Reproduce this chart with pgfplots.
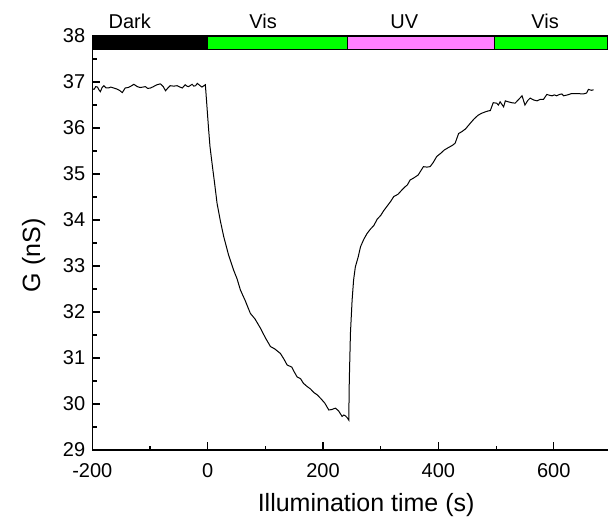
\documentclass[border=0pt]{standalone}
\usepackage{fontspec}
\setmainfont{Liberation Sans}
\usepackage{pgfplots}
\pgfplotsset{compat=1.18}
\definecolor{visgreen}{RGB}{0,255,0}
\definecolor{uvpink}{RGB}{255,128,255}
\begin{document}
\begin{tikzpicture}
\begin{axis}[
  width=257.85pt, height=207pt, scale only axis,
  xmin=-200, xmax=694, ymin=29, ymax=38,
  xtick={-200,0,200,400,600}, ytick={29,30,31,32,33,34,35,36,37,38},
  minor x tick num=1, minor y tick num=1,
  axis x line*=bottom, axis y line*=left,
  axis line style={-, line width=0.6pt},
  tick align=inside,
  major tick length=3.85pt, minor tick length=2.2pt,
  every tick/.style={black, line width=0.6pt},
  /pgf/number format/assume math mode=true,
  ticklabel style={font=\fontsize{10}{12}\selectfont},
  xticklabel style={yshift=-3pt},
  xlabel={Illumination time (s)},
  ylabel={G (nS)},
  label style={font=\fontsize{12.5}{15}\selectfont},
  xlabel style={at={(ticklabel cs:0.531)}, anchor=near ticklabel, yshift=-1pt},
  ylabel style={at={(ticklabel cs:0.47)}, anchor=near ticklabel, yshift=2pt},
  clip=false,
]
% illumination bar
\addplot[fill=black, draw=black, line width=0.6pt] coordinates {(-200,37.7) (0,37.7) (0,38) (-200,38)} --cycle;
\addplot[fill=visgreen, draw=black, line width=0.6pt] coordinates {(0,37.7) (243,37.7) (243,38) (0,38)} --cycle;
\addplot[fill=uvpink, draw=black, line width=0.6pt] coordinates {(243,37.7) (497,37.7) (497,38) (243,38)} --cycle;
\addplot[fill=visgreen, draw=black, line width=0.6pt] coordinates {(497,37.7) (694,37.7) (694,38) (497,38)} --cycle;
\node[font=\fontsize{10}{12}\selectfont, anchor=base, yshift=4pt] at (axis cs:-135,38) {Dark};
\node[font=\fontsize{10}{12}\selectfont, anchor=base, yshift=4pt] at (axis cs:96,38) {Vis};
\node[font=\fontsize{10}{12}\selectfont, anchor=base, yshift=4pt] at (axis cs:341,38) {UV};
\node[font=\fontsize{10}{12}\selectfont, anchor=base, yshift=4pt] at (axis cs:585,38) {Vis};
% conductance trace
\addplot[black, line width=0.5pt] table {
x y
-200 36.85
-197 36.84
-194 36.90
-191 36.89
-188 36.82
-186 36.79
-183 36.88
-180 36.92
-176 36.87
-172 36.87
-168 36.89
-163 36.87
-158 36.85
-153 36.82
-148 36.77
-143 36.87
-138 36.88
-133 36.91
-128 36.95
-122 36.90
-117 36.88
-112 36.89
-108 36.90
-104 36.86
-99 36.87
-94 36.90
-88 36.94
-82 36.96
-77 36.90
-73 36.81
-69 36.87
-65 36.92
-59 36.91
-53 36.92
-48 36.89
-44 36.87
-39 36.94
-36 36.91
-33 36.90
-27 36.95
-24 36.91
-21 36.92
-18 36.97
-14 36.93
-10 36.89
-4 36.94
-2 36.60
0 36.25
1.7 35.96
4 35.60
7.6 35.23
12 34.80
16.3 34.36
22 33.98
27.8 33.64
36 33.25
45 32.91
51 32.72
56.7 32.48
65 32.25
74 31.97
82 31.85
91.4 31.65
100 31.44
108.8 31.25
116 31.20
126 31.10
132 30.98
137.7 30.85
146 30.80
150 30.70
155 30.59
161 30.55
166 30.45
172.4 30.38
178 30.33
184 30.25
189.8 30.20
196 30.12
203 30.02
210 29.87
215 29.88
221.5 29.91
227 29.85
233 29.73
236 29.76
239 29.74
242 29.70
244.6 29.65
245.5 30.50
247.5 31.54
250.4 32.26
253 32.70
256 32.98
261 33.20
265 33.42
270.6 33.58
276 33.70
282 33.80
288 33.88
294 34.02
300 34.10
305 34.20
311 34.30
317 34.40
322.6 34.51
330 34.56
336.5 34.65
342 34.72
346 34.76
351 34.87
358 34.92
365 34.98
370 35.08
374 35.16
380 35.15
385.6 35.16
391 35.25
397 35.38
404 35.45
410 35.52
418 35.58
424 35.62
429 35.67
435 35.88
440.5 35.92
447 35.98
455 36.10
462 36.20
469 36.28
475 36.32
481 36.35
486 36.37
490 36.38
495 36.55
501 36.54
504 36.50
507 36.57
513 36.46
516 36.59
521 36.57
527 36.55
533 36.54
539 36.62
545 36.70
550 36.50
555 36.60
559 36.65
565 36.61
571 36.59
576 36.62
582 36.62
588 36.73
593 36.71
597 36.70
601 36.72
605 36.70
610 36.73
614 36.74
617 36.70
624 36.72
631 36.75
640 36.75
651 36.74
657 36.76
660 36.84
665 36.82
669 36.83
};
\end{axis}
\pgfresetboundingbox
\path (-46.15pt,-37.5pt) rectangle (257.85pt,225pt);
\end{tikzpicture}
\end{document}
